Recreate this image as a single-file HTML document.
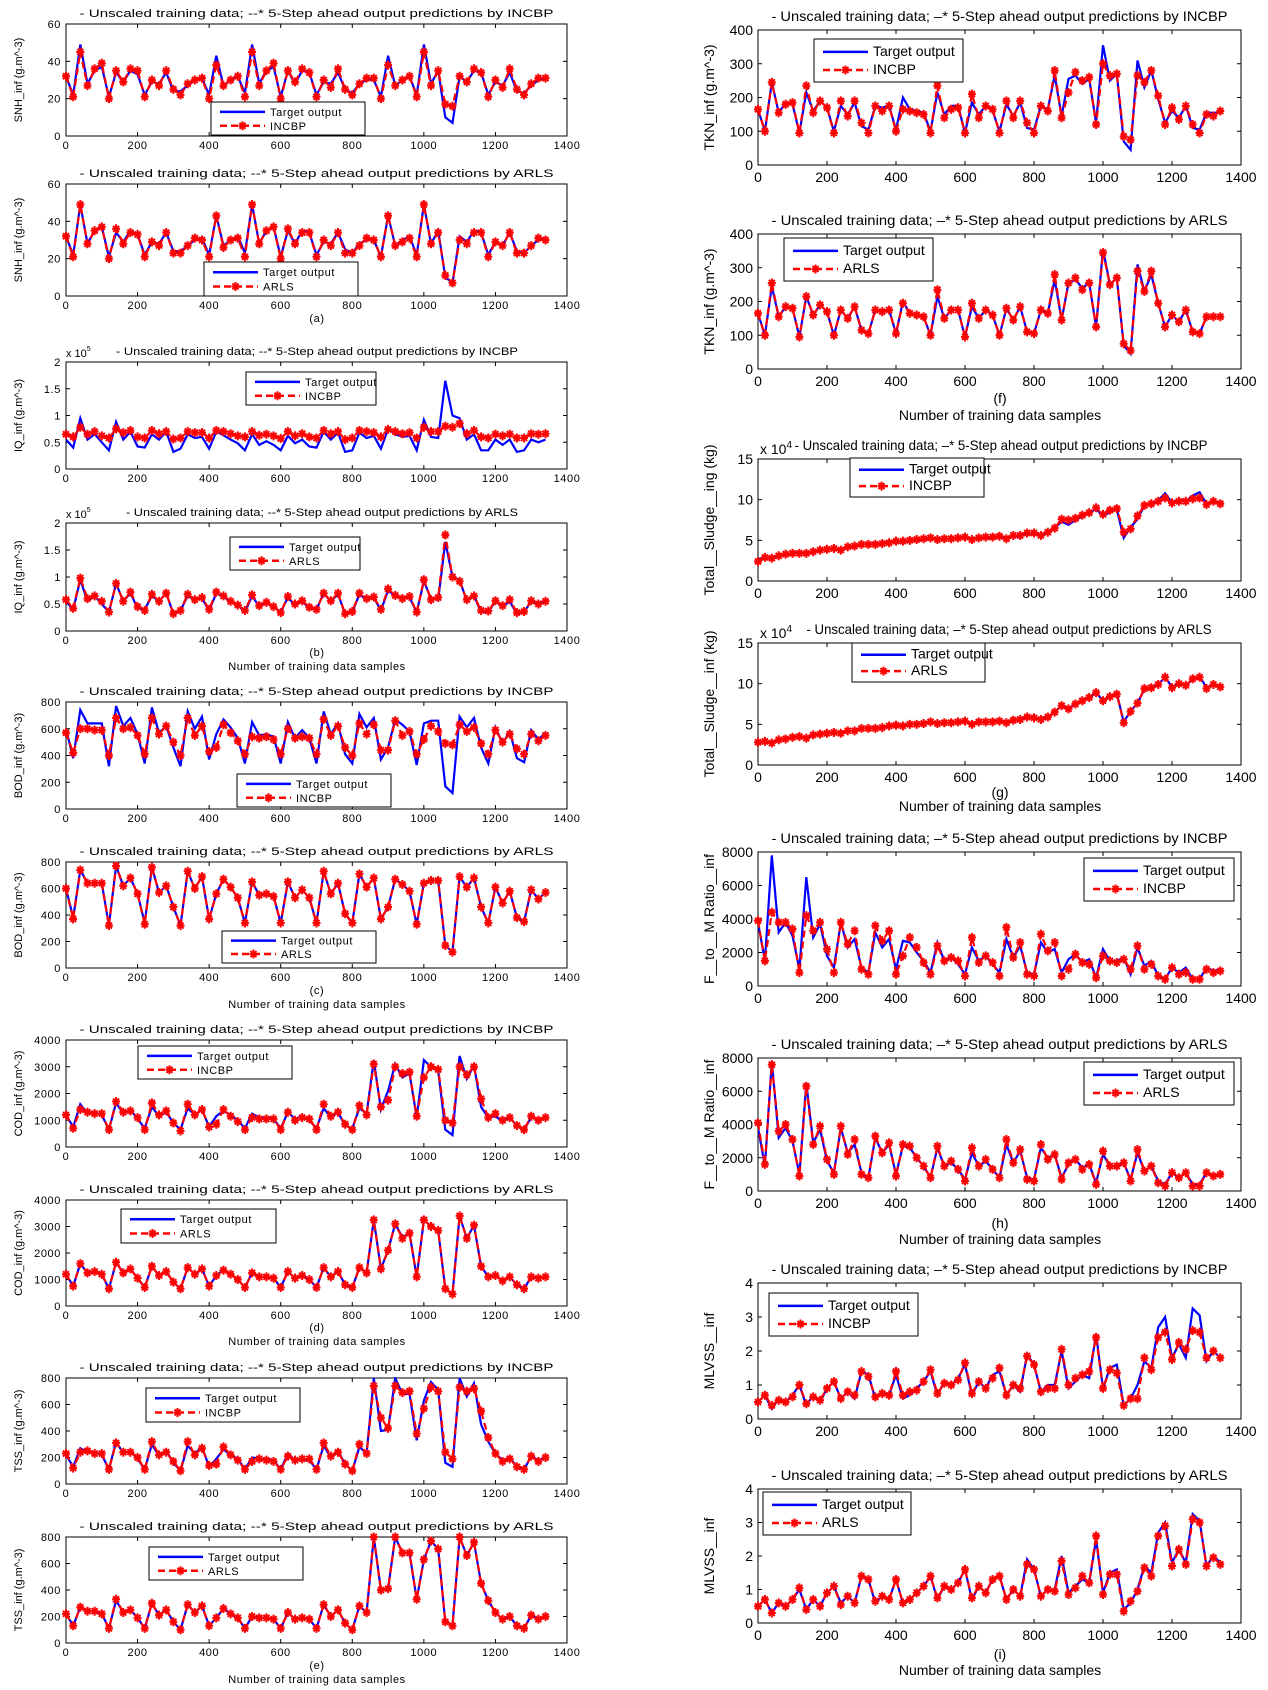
<!DOCTYPE html>
<html><head><meta charset="utf-8"><title>Training data predictions</title>
<style>
html,body{margin:0;padding:0;background:#fff;}
svg{display:block;}
text{font-family:"Liberation Sans",sans-serif;fill:#000;}
</style></head>
<body>
<svg id="fig" xmlns="http://www.w3.org/2000/svg" width="1268" height="1690" viewBox="0 0 1268 1690"></svg>
<script>
// Sample indices (every 20 samples)
const samples = [0,20,40,60,80,100,120,140,160,180,200,220,240,260,280,300,320,340,360,380,400,420,440,460,480,500,520,540,560,580,600,620,640,660,680,700,720,740,760,780,800,820,840,860,880,900,920,940,960,980,1000,1020,1040,1060,1080,1100,1120,1140,1160,1180,1200,1220,1240,1260,1280,1300,1320,1340];
const xTicks = [0,200,400,600,800,1000,1200,1400];

const snhTarget = [32,22,49,28,35,37,21,34,29,35,33,22,29,28,34,24,24,27,30,31,22,43,27,30,32,23,49,28,35,37,21,35,28,35,34,22,29,28,34,25,23,28,30,30,21,43,27,30,32,22,49,28,35,10,7,32,29,35,34,22,29,27,34,24,23,27,30,31];
const snhIncbp = [32,21,45,27,36,39,20,35,29,36,35,21,30,27,35,25,22,28,30,31,20,38,27,30,32,21,45,27,35,39,20,35,29,36,34,21,30,26,36,25,22,28,31,31,20,38,27,30,32,21,45,27,35,17,16,32,29,36,34,21,30,26,36,25,22,28,31,31];
const snhArls = [32,21,49,28,35,37,20,36,28,34,33,21,29,27,34,23,23,27,31,30,21,43,26,30,31,21,49,28,35,37,20,36,28,34,34,21,30,27,34,23,23,27,31,30,21,43,27,29,31,21,49,28,34,11,7,30,28,34,34,21,29,27,34,23,23,27,31,30];

const iqTarget = [.55,.4,.95,.55,.65,.5,.35,.88,.55,.7,.42,.4,.65,.55,.7,.32,.38,.65,.58,.6,.38,.7,.63,.55,.48,.35,.65,.45,.52,.45,.35,.62,.48,.55,.42,.4,.7,.55,.68,.32,.35,.68,.58,.62,.38,.75,.65,.6,.62,.35,.92,.6,.58,1.65,1.0,.95,.55,.65,.35,.35,.55,.45,.55,.32,.35,.55,.5,.55];
const iqIncbp = [.65,.6,.78,.65,.7,.62,.58,.75,.68,.72,.6,.58,.72,.66,.7,.56,.58,.7,.68,.68,.58,.72,.7,.66,.62,.6,.7,.63,.65,.62,.57,.7,.62,.66,.6,.58,.72,.66,.7,.55,.58,.72,.7,.68,.6,.74,.7,.66,.68,.58,.78,.7,.7,.8,.78,.85,.66,.72,.6,.58,.65,.62,.65,.58,.58,.66,.65,.66];
const iqArls = [.58,.42,.98,.6,.65,.55,.35,.88,.55,.72,.45,.38,.68,.55,.7,.32,.38,.68,.58,.62,.4,.72,.65,.55,.48,.38,.67,.47,.53,.45,.34,.64,.5,.56,.44,.4,.7,.56,.7,.32,.36,.7,.6,.63,.4,.78,.66,.6,.64,.35,.95,.58,.62,1.78,1.0,.92,.58,.65,.38,.37,.56,.47,.58,.34,.36,.56,.5,.55];

const bodTarget = [600,380,740,640,640,640,320,770,620,680,560,340,760,570,620,460,320,730,600,690,370,560,670,610,530,340,650,550,560,540,340,650,530,590,530,340,730,560,640,410,340,710,610,680,370,460,670,630,580,330,640,660,660,170,120,690,610,680,460,340,610,490,580,380,350,590,520,570];
const bodIncbp = [570,420,600,600,590,590,400,680,600,610,550,410,680,560,620,500,400,680,550,620,430,460,630,570,510,410,540,530,540,520,410,600,530,540,530,410,670,550,620,460,400,640,560,630,440,440,660,550,580,410,520,620,580,490,480,630,580,610,490,410,590,500,560,450,410,560,510,550];
const bodArls = [600,370,740,640,640,640,320,770,620,680,560,330,760,570,620,460,320,730,600,690,370,560,670,610,530,340,650,550,560,540,340,650,530,590,530,340,730,560,640,410,340,710,610,680,370,460,670,630,580,330,640,660,660,170,120,690,610,680,460,340,610,490,580,380,350,590,520,570];

const codTarget = [1200,750,1600,1250,1300,1200,650,1650,1250,1400,1050,700,1500,1150,1300,900,650,1450,1200,1400,750,1150,1350,1200,1000,700,1250,1100,1100,1050,700,1300,1050,1150,1000,700,1450,1100,1300,800,700,1450,1250,3250,1400,2100,3100,2600,2750,1100,3250,3000,2850,650,450,3400,2550,3050,1500,1100,1150,950,1100,800,650,1100,1050,1100];
const codIncbp = [1200,700,1400,1300,1250,1250,650,1700,1300,1350,1100,650,1650,1200,1350,900,600,1600,1200,1400,750,850,1400,1150,950,650,1100,1050,1050,1050,650,1300,1000,1100,1050,650,1600,1150,1300,850,650,1550,1200,3100,1500,1750,3000,2750,2800,1150,2600,3000,2900,1000,900,3000,2700,3000,1800,1100,1250,1000,1100,800,650,1150,1000,1100];
const codArls = [1200,750,1600,1250,1300,1200,650,1650,1250,1400,1050,700,1500,1150,1300,900,650,1450,1200,1400,750,1150,1350,1200,1000,700,1250,1100,1100,1050,700,1300,1050,1150,1000,700,1450,1100,1300,800,700,1450,1250,3250,1400,2100,3100,2550,2750,1100,3250,3000,2850,650,450,3400,2550,3050,1500,1100,1150,950,1100,800,650,1100,1050,1100];

const tssTarget = [220,130,270,240,240,220,110,320,230,250,190,110,300,210,250,160,100,290,230,280,130,190,260,220,190,110,200,190,190,180,110,230,180,190,180,110,290,200,250,150,100,280,230,800,400,410,800,680,680,330,630,770,710,160,130,800,660,760,450,320,230,180,200,130,110,210,180,200];
const tssIncbp = [230,120,240,250,230,230,110,310,240,240,200,110,320,220,240,170,100,320,220,270,140,150,280,220,180,110,170,190,180,170,110,210,180,190,190,110,310,210,240,150,100,300,230,740,500,420,740,690,700,380,570,730,700,240,190,730,700,720,550,350,230,170,190,130,110,210,170,200];
const tssArls = [220,130,270,240,240,220,110,330,230,250,190,110,300,210,250,160,100,290,230,280,130,190,260,220,190,110,200,190,190,180,110,230,180,190,180,110,290,200,250,150,100,280,230,800,400,410,800,680,680,330,630,770,710,160,130,800,660,760,450,320,230,180,200,130,110,210,180,200];

const tknTarget = [165,100,245,155,185,180,95,215,160,190,170,100,175,150,185,115,105,175,170,175,105,200,165,160,155,100,215,150,175,175,95,185,150,175,160,100,180,145,185,110,105,175,165,265,145,255,265,240,255,125,355,250,270,70,45,310,230,280,195,125,160,140,175,110,105,155,155,155];
const tknIncbp = [165,100,245,155,180,185,95,235,155,190,170,95,190,145,190,125,95,175,160,175,100,165,160,155,150,95,235,140,165,170,95,210,140,175,165,95,190,140,190,125,95,175,160,280,140,215,275,250,260,120,300,265,270,85,75,265,245,280,205,120,170,135,175,120,95,150,145,160];
const tknArls = [165,100,255,155,185,180,95,215,160,190,170,100,175,150,185,115,105,175,170,175,105,195,165,160,155,100,235,150,175,175,95,195,150,175,160,100,180,145,185,110,105,175,165,280,145,255,270,235,255,125,345,250,270,75,55,290,230,290,195,125,160,140,175,110,105,155,155,155];

const sludgeTarget = [2.7,2.9,2.7,3.1,3.2,3.4,3.5,3.3,3.6,3.8,3.9,4.0,3.9,4.2,4.2,4.5,4.5,4.5,4.6,4.8,4.9,4.8,5.0,5.0,5.1,5.3,5.1,5.2,5.2,5.3,5.4,5.0,5.3,5.3,5.3,5.5,5.2,5.5,5.6,5.9,5.8,5.6,5.9,6.5,7.3,6.9,7.5,7.9,8.3,8.9,7.9,8.5,8.8,5.3,6.6,7.6,9.3,9.5,9.9,10.8,9.6,10.0,9.8,10.5,10.9,9.5,9.9,9.6];
const sludgeIncbp = [2.4,2.9,2.8,3.1,3.3,3.4,3.4,3.4,3.6,3.8,3.9,4.0,3.8,4.2,4.3,4.5,4.5,4.5,4.6,4.7,4.9,4.9,5.0,5.1,5.2,5.3,5.1,5.2,5.2,5.3,5.4,5.1,5.3,5.4,5.4,5.5,5.2,5.6,5.6,5.9,5.9,5.6,6.0,6.5,7.6,7.5,7.7,8.1,8.4,9.0,8.2,8.7,8.9,6.0,6.4,8.0,9.3,9.5,9.8,10.2,9.6,9.8,9.8,10.1,10.2,9.4,9.8,9.5];
const sludgeArls = [2.8,2.9,2.7,3.1,3.2,3.4,3.5,3.3,3.7,3.8,3.9,4.0,3.9,4.2,4.2,4.5,4.5,4.5,4.6,4.8,4.9,4.8,5.0,5.0,5.1,5.3,5.1,5.2,5.2,5.3,5.4,5.0,5.3,5.3,5.3,5.4,5.2,5.5,5.6,5.9,5.8,5.6,5.9,6.5,7.3,6.9,7.5,7.9,8.3,8.9,7.9,8.4,8.7,5.2,6.6,7.6,9.4,9.5,9.9,10.8,9.5,10.0,9.8,10.6,10.8,9.4,9.9,9.6];

const fmTarget = [3800,1500,7800,3200,3800,3000,1000,6500,2900,3700,1800,1100,3800,2300,2800,1100,800,3200,2300,2800,1000,2700,2600,2000,1500,800,2600,1500,1700,1300,700,2300,1500,1800,1300,800,2800,1700,2400,800,700,2600,2000,2200,800,1600,1900,1400,1600,500,2200,1500,1500,1700,700,2300,1200,1500,600,400,1100,800,1100,400,400,1100,900,1000];
const fmIncbp = [3900,1500,4400,3800,3800,3400,800,4200,3300,3800,2200,800,3800,2500,3300,1000,700,3600,2700,3300,700,1800,2900,2300,1400,700,2400,1500,1700,1500,600,2900,1400,1800,1400,600,3500,1700,2600,700,600,3100,2100,2600,600,1000,1900,1400,1300,500,1800,1500,1400,1600,1000,2400,1000,1300,600,400,1100,700,800,400,400,1000,800,900];
const fmArls = [4100,1600,7600,3600,4000,3100,900,6300,2800,3900,1900,1000,3900,2200,3100,1000,800,3300,2300,2900,900,2800,2700,2000,1500,800,2700,1500,1800,1300,600,2600,1500,1900,1300,800,3100,1700,2500,700,600,2800,1900,2200,700,1700,1900,1300,1600,400,2400,1500,1500,1700,600,2500,1200,1500,500,300,1100,800,1100,300,300,1100,900,1000];

const mlvssTarget = [0.5,0.7,0.3,0.6,0.5,0.7,1.0,0.4,0.7,0.5,0.9,1.1,0.6,0.8,0.6,1.4,1.3,0.6,0.8,0.7,1.3,0.6,0.7,0.9,1.1,1.4,0.7,1.1,1.0,1.2,1.6,0.7,1.1,0.9,1.3,1.4,0.7,1.0,0.8,1.9,1.6,0.8,1.0,1.0,2.0,0.9,1.1,1.3,1.2,2.5,0.9,1.5,1.6,0.4,0.6,1.0,1.7,1.5,2.7,3.0,1.8,2.2,1.8,3.25,3.05,1.7,2.0,1.8];
const mlvssIncbp = [0.5,0.7,0.4,0.55,0.5,0.65,1.0,0.45,0.65,0.55,0.9,1.1,0.6,0.8,0.7,1.4,1.25,0.65,0.75,0.7,1.4,0.7,0.8,0.85,1.1,1.45,0.75,1.05,1.0,1.15,1.65,0.75,1.1,0.9,1.2,1.5,0.7,1.0,0.9,1.85,1.6,0.8,0.9,0.9,2.05,1.0,1.2,1.3,1.4,2.4,0.9,1.45,1.35,0.4,0.6,0.6,1.8,1.45,2.4,2.55,1.75,2.25,2.05,2.6,2.55,1.8,2.0,1.8];
const mlvssArls = [0.5,0.7,0.3,0.6,0.5,0.7,1.05,0.4,0.7,0.5,0.9,1.1,0.55,0.8,0.6,1.4,1.3,0.65,0.8,0.7,1.3,0.6,0.7,0.9,1.1,1.4,0.75,1.1,1.0,1.2,1.6,0.75,1.1,0.9,1.3,1.4,0.7,1.0,0.8,1.75,1.6,0.8,1.0,0.95,1.85,0.85,1.05,1.4,1.2,2.6,0.85,1.45,1.45,0.35,0.65,0.95,1.65,1.4,2.6,2.9,1.7,2.2,1.75,3.1,3.0,1.7,1.95,1.75];

const TITLE_L = "- Unscaled training data; --* 5-Step ahead output predictions by ";
const TITLE_R = "- Unscaled training data; \u2013* 5-Step ahead output predictions by ";
const NS = "http://www.w3.org/2000/svg";
const svg = document.getElementById('fig');

function el(tag, attrs, parent, txt){
  const e = document.createElementNS(NS, tag);
  for (const k in attrs) e.setAttribute(k, attrs[k]);
  if (txt !== undefined) e.textContent = txt;
  (parent || svg).appendChild(e);
  return e;
}

function fmt(v){ return (Math.round(v*100)/100).toString(); }

function drawPanel(p){
  const g = el('g', {});
  
  
  const L = p.left ? {x0:66, x1:567, fs:11, tfs:11, tw:474, lfs:11} : {x0:758, x1:1241, fs:14, tfs:14, tw:456, lfs:14};
  const xS = v => L.x0 + (v/1400)*(L.x1-L.x0);
  const yS = v => p.y1 - (v/p.ymax)*(p.y1-p.y0);
  const box = el('rect', {x:L.x0, y:p.y0, width:L.x1-L.x0, height:p.y1-p.y0, fill:'#fff', stroke:'#000', 'stroke-width':1}, g);
  
  
  xTicks.forEach(t => {
    const x = xS(t);
    el('line', {x1:x, y1:p.y1, x2:x, y2:p.y1-4, stroke:'#000'}, g);
    el('line', {x1:x, y1:p.y0, x2:x, y2:p.y0+4, stroke:'#000'}, g);
    const lab = el('text', {x:x, y:p.y1 + (p.left?13:17), 'font-size':L.fs, 'text-anchor':'middle', 'letter-spacing':p.left?'0.6':'0'}, g, String(t));
    
    
  });
  p.yticks.forEach(t => {
    const y = yS(t);
    el('line', {x1:L.x0, y1:y, x2:L.x0+4, y2:y, stroke:'#000'}, g);
    el('line', {x1:L.x1, y1:y, x2:L.x1-4, y2:y, stroke:'#000'}, g);
    const lab = el('text', {x:L.x0-5, y:y + (p.left?4:5), 'font-size':L.fs, 'text-anchor':'end', 'letter-spacing':p.left?'0.6':'0'}, g, fmt(t));
    
    
  });
  const tcx = p.tcx || (L.x0+L.x1)/2;
  const tw = p.tw || L.tw;
  const tt = el('text', {x:tcx, y:p.y0 - (p.left?7:9), 'font-size':L.tfs, 'text-anchor':'middle', textLength:tw, lengthAdjust:'spacingAndGlyphs'}, g, (p.left?TITLE_L:TITLE_R) + p.method);
  
  
  if (p.mult){
    const m = el('text', {x:L.x0 + (p.left?0:2), y:p.y0 - 5, 'font-size':L.fs}, g);
    
    
    el('tspan', {}, m, 'x 10');
    el('tspan', {dy:-6, 'font-size':L.fs-4}, m, p.mult);
  }
  const yl = p.left ? 22 : 714;
  const ylab = el('text', {x:0, y:0, 'font-size':L.fs, 'text-anchor':'middle', transform:`translate(${yl},${(p.y0+p.y1)/2}) rotate(-90)`}, g, p.ylabel);
  
  
  const cid = 'clip-' + p.name;
  const cp = el('clipPath', {id:cid}, g);
  el('rect', {x:L.x0, y:p.y0-1, width:L.x1-L.x0, height:p.y1-p.y0+2}, cp);
  const tpts = samples.map((s,i) => xS(s).toFixed(1)+','+yS(p.target[i]).toFixed(1)).join(' ');
  const tl = el('polyline', {points:tpts, fill:'none', stroke:'#0000ff', 'stroke-width':2.2, 'clip-path':`url(#${cid})`}, g);
  
  
  const ppts = samples.map((s,i) => xS(s).toFixed(1)+','+yS(p.pred[i]).toFixed(1)).join(' ');
  const pl = el('polyline', {points:ppts, fill:'none', stroke:'#ff0000', 'stroke-width':2.2, 'stroke-dasharray':'7,4', 'clip-path':`url(#${cid})`}, g);
  
  
  samples.forEach((s,i) => {
    const cx = xS(s), cy = yS(p.pred[i]);
    const m = el('path', {d:`M${cx-4},${cy}H${cx+4}M${cx},${cy-4.5}V${cy+4.5}M${cx-3},${cy-3}L${cx+3},${cy+3}M${cx-3},${cy+3}L${cx+3},${cy-3}`, stroke:'#ff0000', 'stroke-width':2}, g);
    
    
  });
  const lg = el('g', {}, g);
  
  
  const [lx0, ly0, lx1, ly1] = p.legend;
  el('rect', {x:lx0, y:ly0, width:lx1-lx0, height:ly1-ly0, fill:'#fff', stroke:'#000', 'stroke-width':1}, lg);
  const lh = (ly1-ly0);
  const r1 = ly0 + lh*0.3, r2 = ly0 + lh*0.72;
  const sw = 45;
  el('line', {x1:lx0+9, y1:r1, x2:lx0+9+sw, y2:r1, stroke:'#0000ff', 'stroke-width':2.5}, lg);
  el('line', {x1:lx0+9, y1:r2, x2:lx0+9+sw, y2:r2, stroke:'#ff0000', 'stroke-width':2.5, 'stroke-dasharray':'7,4'}, lg);
  const mx = lx0+9+sw/2;
  el('path', {d:`M${mx-4},${r2}H${mx+4}M${mx},${r2-4.5}V${r2+4.5}M${mx-3},${r2-3}L${mx+3},${r2+3}M${mx-3},${r2+3}L${mx+3},${r2-3}`, stroke:'#ff0000', 'stroke-width':2}, lg);
  const e1 = el('text', {x:lx0+sw+14, y:r1+4, 'font-size':L.lfs, 'letter-spacing':p.left?'0.6':'0'}, lg, 'Target output');
  
  
  const e2 = el('text', {x:lx0+sw+14, y:r2+4, 'font-size':L.lfs, 'letter-spacing':p.left?'0.6':'0'}, lg, p.method);
  
  
}

function caption(x, y, txt, fs, name){
  const t = el('text', {x:x, y:y, 'font-size':fs, 'text-anchor':'middle', 'letter-spacing':fs<13?'0.6':'0'}, svg, txt);
  
  
}

const U = '(g.m^-3)';
const panels = [
  {name:'snh-incbp', left:true, y0:24, y1:136, ymax:60, yticks:[0,20,40,60], target:snhTarget, pred:snhIncbp, method:'INCBP', ylabel:'SNH_inf '+U, legend:[211,102,365,135]},
  {name:'snh-arls', left:true, y0:184, y1:296, ymax:60, yticks:[0,20,40,60], target:snhTarget, pred:snhArls, method:'ARLS', ylabel:'SNH_inf '+U, legend:[204,262,358,296]},
  {name:'iq-incbp', left:true, y0:362, y1:469, ymax:2, yticks:[0,0.5,1,1.5,2], target:iqTarget, pred:iqIncbp, method:'INCBP', ylabel:'IQ_inf '+U, legend:[246,372,376,405], mult:'5', tcx:317, tw:402},
  {name:'iq-arls', left:true, y0:523, y1:631, ymax:2, yticks:[0,0.5,1,1.5,2], target:iqTarget, pred:iqArls, method:'ARLS', ylabel:'IQ_inf '+U, legend:[230,537,360,570], mult:'5', tcx:322, tw:392},
  {name:'bod-incbp', left:true, y0:702, y1:809, ymax:800, yticks:[0,200,400,600,800], target:bodTarget, pred:bodIncbp, method:'INCBP', ylabel:'BOD_inf '+U, legend:[237,774,391,807]},
  {name:'bod-arls', left:true, y0:862, y1:968, ymax:800, yticks:[0,200,400,600,800], target:bodTarget, pred:bodArls, method:'ARLS', ylabel:'BOD_inf '+U, legend:[222,931,376,963]},
  {name:'cod-incbp', left:true, y0:1040, y1:1147, ymax:4000, yticks:[0,1000,2000,3000,4000], target:codTarget, pred:codIncbp, method:'INCBP', ylabel:'COD_inf '+U, legend:[138,1046,292,1079]},
  {name:'cod-arls', left:true, y0:1200, y1:1306, ymax:4000, yticks:[0,1000,2000,3000,4000], target:codTarget, pred:codArls, method:'ARLS', ylabel:'COD_inf '+U, legend:[121,1209,276,1243]},
  {name:'tss-incbp', left:true, y0:1378, y1:1484, ymax:800, yticks:[0,200,400,600,800], target:tssTarget, pred:tssIncbp, method:'INCBP', ylabel:'TSS_inf '+U, legend:[146,1388,300,1422]},
  {name:'tss-arls', left:true, y0:1537, y1:1643, ymax:800, yticks:[0,200,400,600,800], target:tssTarget, pred:tssArls, method:'ARLS', ylabel:'TSS_inf '+U, legend:[149,1547,303,1580]},
  {name:'tkn-incbp', left:false, y0:30, y1:165, ymax:400, yticks:[0,100,200,300,400], target:tknTarget, pred:tknIncbp, method:'INCBP', ylabel:'TKN_inf '+U, legend:[814,39,963,82]},
  {name:'tkn-arls', left:false, y0:234, y1:369, ymax:400, yticks:[0,100,200,300,400], target:tknTarget, pred:tknArls, method:'ARLS', ylabel:'TKN_inf '+U, legend:[784,238,933,281]},
  {name:'sludge-incbp', left:false, y0:459, y1:581, ymax:15, yticks:[0,5,10,15], target:sludgeTarget, pred:sludgeIncbp, method:'INCBP', ylabel:'Total__Sludge__ing (kg)', legend:[850,458,984,497], mult:'4', tcx:1001, tw:413},
  {name:'sludge-arls', left:false, y0:643, y1:765, ymax:15, yticks:[0,5,10,15], target:sludgeTarget, pred:sludgeArls, method:'ARLS', ylabel:'Total__Sludge__inf (kg)', legend:[852,643,985,682], mult:'4', tcx:1009, tw:405},
  {name:'fm-incbp', left:false, y0:852, y1:986, ymax:8000, yticks:[0,2000,4000,6000,8000], target:fmTarget, pred:fmIncbp, method:'INCBP', ylabel:'F__to__M Ratio__inf', legend:[1084,858,1234,901]},
  {name:'fm-arls', left:false, y0:1058, y1:1191, ymax:8000, yticks:[0,2000,4000,6000,8000], target:fmTarget, pred:fmArls, method:'ARLS', ylabel:'F__to__M Ratio__inf', legend:[1084,1062,1234,1105]},
  {name:'mlvss-incbp', left:false, y0:1283, y1:1419, ymax:4, yticks:[0,1,2,3,4], target:mlvssTarget, pred:mlvssIncbp, method:'INCBP', ylabel:'MLVSS__inf', legend:[769,1293,918,1336]},
  {name:'mlvss-arls', left:false, y0:1489, y1:1623, ymax:4, yticks:[0,1,2,3,4], target:mlvssTarget, pred:mlvssArls, method:'ARLS', ylabel:'MLVSS__inf', legend:[763,1492,911,1535]}
];
panels.forEach(drawPanel);

const XL = 'Number of training data samples';
caption(317, 322, '(a)', 11, 'panel-label-a');
caption(317, 656, '(b)', 11, 'panel-label-b');
caption(317, 670, XL, 11, 'x-axis-title');
caption(317, 994, '(c)', 11, 'panel-label-c');
caption(317, 1008, XL, 11, 'x-axis-title');
caption(317, 1331, '(d)', 11, 'panel-label-d');
caption(317, 1345, XL, 11, 'x-axis-title');
caption(317, 1669, '(e)', 11, 'panel-label-e');
caption(317, 1683, XL, 11, 'x-axis-title');
caption(1000, 403, '(f)', 14, 'panel-label-f');
caption(1000, 420, XL, 14, 'x-axis-title');
caption(1000, 797, '(g)', 14, 'panel-label-g');
caption(1000, 811, XL, 14, 'x-axis-title');
caption(1000, 1228, '(h)', 14, 'panel-label-h');
caption(1000, 1244, XL, 14, 'x-axis-title');
caption(1000, 1659, '(i)', 14, 'panel-label-i');
caption(1000, 1675, XL, 14, 'x-axis-title');
</script>
</body></html>
